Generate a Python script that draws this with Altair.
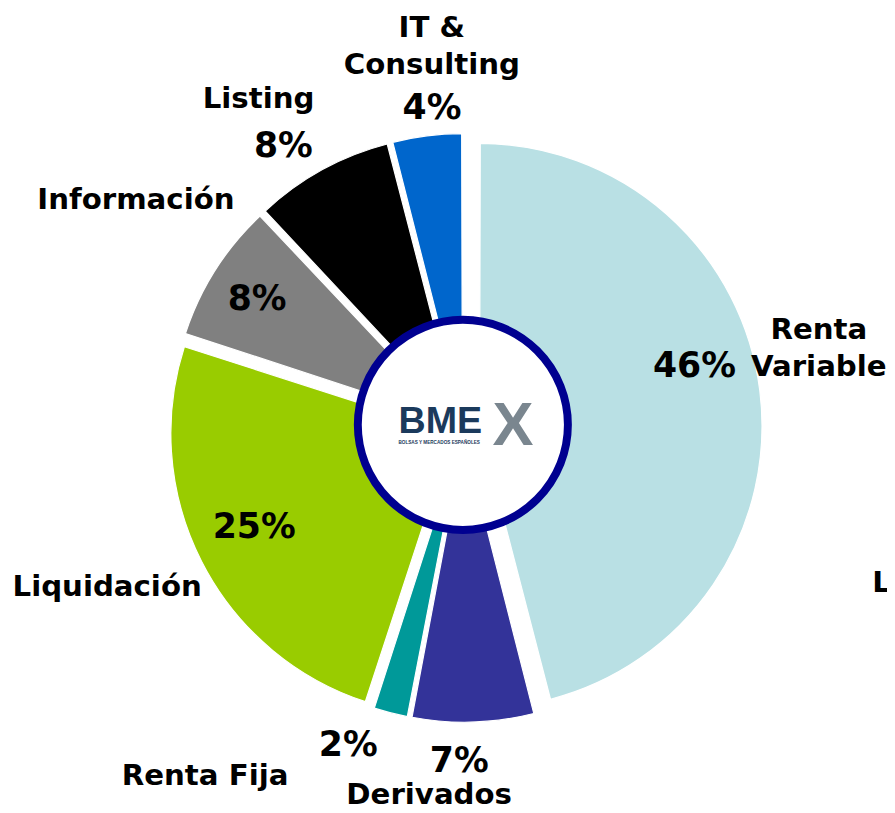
import altair as alt
import pandas as pd
import numpy as np

# ---- data ----
categories = ["Renta Variable", "Derivados", "Renta Fija", "Liquidación",
              "Información", "Listing", "IT & Consulting"]
shares = [46, 7, 2, 25, 8, 8, 4]
name_labels = ["Renta\nVariable", "Derivados", "Renta Fija", "Liquidación",
               "Información", "Listing", "IT &\nConsulting"]
colors = ["#B9E0E4", "#333399", "#009999", "#99CC00", "#808080", "#000000", "#0066CC"]

# ---- layout (not data) ----
W, H = 887, 805
CX, CY = 460, 420
R = 285
LINE_H = 37
explode = [16, 12, 12, 12, 12, 12, 12]
name_r = [367, 372, 438, 394, 403, 391, 386]
name_shift = [-5.4, 7.2, 22.2, 3.0, 2.4, -3.2, 2.4]
pct_r = [241, 336, 341, 234, 246, 338, 324]
pct_shift = [-7.9, 2.6, 5.6, 1.7, -0.4, -3.8, 1.5]

df = pd.DataFrame({
    "order": list(range(len(categories))),
    "category": categories,
    "share": shares,
    "name_label": name_labels,
    "pct_label": [f"{v}%" for v in shares],
    "explode": explode,
    "name_r": name_r,
    "name_shift": name_shift,
    "pct_r": pct_r,
    "pct_shift": pct_shift,
})

FONT = "DejaVu Sans"

base = (
    alt.Chart(df)
    .transform_joinaggregate(total="sum(share)")
    .transform_window(cum="sum(share)", sort=[alt.SortField("order")], frame=[None, 0])
    .transform_calculate(t1="datum.cum / datum.total * 2 * PI")
    .transform_calculate(t0="(datum.cum - datum.share) / datum.total * 2 * PI")
    .transform_calculate(mid="(datum.t0 + datum.t1) / 2")
    .transform_calculate(px=f"{CX} + datum.explode * sin(datum.mid)")
    .transform_calculate(py=f"{CY} - datum.explode * cos(datum.mid)")
    .transform_calculate(na="datum.mid + datum.name_shift * PI / 180")
    .transform_calculate(nx=f"{CX} + datum.name_r * sin(datum.na)")
    .transform_calculate(
        ny=f"{CY} - datum.name_r * cos(datum.na) - (indexof(datum.name_label, '\\n') >= 0 ? {LINE_H / 2} : 0)")
    .transform_calculate(pa="datum.mid + datum.pct_shift * PI / 180")
    .transform_calculate(qx=f"{CX} + datum.pct_r * sin(datum.pa)")
    .transform_calculate(qy=f"{CY} - datum.pct_r * cos(datum.pa)")
)

arcs = base.mark_arc(outerRadius=R, padAngle=0.005, stroke="white", strokeWidth=1.2).encode(
    theta=alt.Theta("t0:Q", scale=None),
    theta2=alt.Theta2("t1:Q"),
    x=alt.X("px:Q", scale=None, axis=None),
    y=alt.Y("py:Q", scale=None, axis=None),
    color=alt.Color("category:N", scale=alt.Scale(domain=categories, range=colors), legend=None),
)

names = base.mark_text(font=FONT, fontSize=29.5, fontWeight="bold", color="black",
                       align="center", baseline="middle", lineBreak="\n", lineHeight=LINE_H).encode(
    x=alt.X("nx:Q", scale=None, axis=None),
    y=alt.Y("ny:Q", scale=None, axis=None),
    text="name_label:N",
)

pcts = base.mark_text(font=FONT, fontSize=35, fontWeight="bold", color="black",
                      align="center", baseline="middle").encode(
    x=alt.X("qx:Q", scale=None, axis=None),
    y=alt.Y("qy:Q", scale=None, axis=None),
    text="pct_label:N",
)

one = pd.DataFrame({"k": [0]})

circle = alt.Chart(one).mark_arc(outerRadius=106, fill="white", stroke="#000090", strokeWidth=8).encode(
    theta=alt.value(0), theta2=alt.value(2 * np.pi),
    x=alt.value(CX - 1), y=alt.value(CY - 3),
)

logo_bme = alt.Chart(one).mark_text(text="BME", font="Liberation Sans", fontSize=38, fontWeight="bold",
                                    color="#1B3A5C", align="left", baseline="alphabetic").encode(
    x=alt.value(CX - 66), y=alt.value(CY + 5))
logo_x = alt.Chart(one).mark_text(text="X", font="Liberation Sans", fontSize=62, fontWeight="bold",
                                  color="#7A868F", align="left", baseline="alphabetic").encode(
    x=alt.value(CX + 29), y=alt.value(CY + 17))
logo_sub = alt.Chart(one).mark_text(text="BOLSAS Y MERCADOS ESPAÑOLES", font="Liberation Sans", fontSize=4.7,
                                    fontWeight="bold", color="#1B3A5C", align="left", baseline="middle").encode(
    x=alt.value(CX - 66), y=alt.value(CY + 15))

cut_label = alt.Chart(one).mark_text(text="L", font=FONT, fontSize=29.5, fontWeight="bold", color="black",
                                     align="left", baseline="middle").encode(
    x=alt.value(872), y=alt.value(577))

chart = alt.layer(arcs, circle, logo_bme, logo_x, logo_sub, pcts, names, cut_label).properties(
    width=W, height=H, padding=0,
    autosize=alt.AutoSizeParams(type="none"),
).configure_view(stroke=None)

chart.save("out.html", embed_options={"renderer": "svg", "actions": False})
